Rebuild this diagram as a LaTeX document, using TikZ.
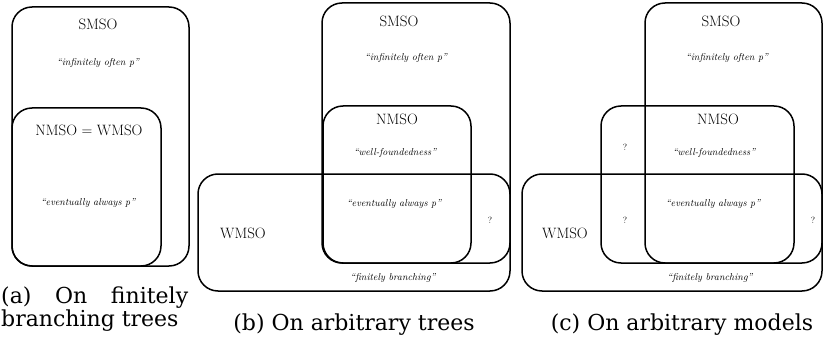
\documentclass[tikz,border=0pt]{standalone}
\usepackage{fontspec}
\newfontfamily\capfont{DejaVu Serif}
\tikzset{
  setbox/.style={line width=1.5pt, rounded corners=20pt},
  logic/.style={font=\fontsize{15}{15}\selectfont, inner sep=0pt},
  prop/.style={font=\fontsize{10}{10}\selectfont\itshape, inner sep=0pt},
  open/.style={font=\fontsize{9}{9}\selectfont, inner sep=0pt},
  capt/.style={font=\capfont\fontsize{22}{22}\selectfont, inner sep=0pt}
}
\begin{document}
\begin{tikzpicture}[x=1pt, y=-1pt, line join=round, line cap=round]
  \useasboundingbox (0,0) rectangle (823,337);
  % (a) finitely branching trees
  \draw[setbox] (12,7) rectangle (189,266);
  \draw[setbox] (12,108) rectangle (161,266);
  \node[logic] (sa) at (98,24) {SMSO};
  \node[prop] (ia) at (98,63) {``infinitely often p''};
  \node[logic] (nwa) at (89,130) {NMSO = WMSO};
  \node[prop] (ea) at (88,203) {``eventually always p''};
  \node[capt, anchor=west] (ca2) at (1,321) {branching trees};
  \node[capt, anchor=west] (ca1) at (1,298) {\makebox[187pt][s]{(a) On finitely}};
  % (b) arbitrary trees
  \draw[setbox] (322,3) rectangle (510,263);
  \draw[setbox] (323,106) rectangle (471,263);
  \draw[setbox] (198,174) rectangle (510,291);
  \node[logic] (sb) at (399,21) {SMSO};
  \node[prop] (ib) at (406,58) {``infinitely often p''};
  \node[logic] (nb) at (397,119) {NMSO};
  \node[prop] (fb) at (395,153) {``well-foundedness''};
  \node[prop] (eb) at (394,204) {``eventually always p''};
  \node[open] (qb) at (490,220) {?};
  \node[logic] (wb) at (243,233) {WMSO};
  \node[prop] (bb) at (393,278) {``finitely branching''};
  \node[capt] (cb) at (354,325) {(b) On arbitrary trees};
  % (c) arbitrary models
  \draw[setbox] (645,3) rectangle (822,263);
  \draw[setbox] (601,106) rectangle (794,263);
  \draw[setbox] (522,174) rectangle (822,291);
  \node[logic] (sc) at (721,21) {SMSO};
  \node[prop] (ic) at (727,58) {``infinitely often p''};
  \node[logic] (nc) at (718,119) {NMSO};
  \node[open] (qc1) at (625,147) {?};
  \node[prop] (fc) at (714,153) {``well-foundedness''};
  \node[prop] (ec) at (713,204) {``eventually always p''};
  \node[open] (qc2) at (625,220) {?};
  \node[open] (qc3) at (813,220) {?};
  \node[logic] (wc) at (565,233) {WMSO};
  \node[prop] (bc) at (710,278) {``finitely branching''};
  \node[capt] (cc) at (682,325) {(c) On arbitrary models};
\end{tikzpicture}
\end{document}
